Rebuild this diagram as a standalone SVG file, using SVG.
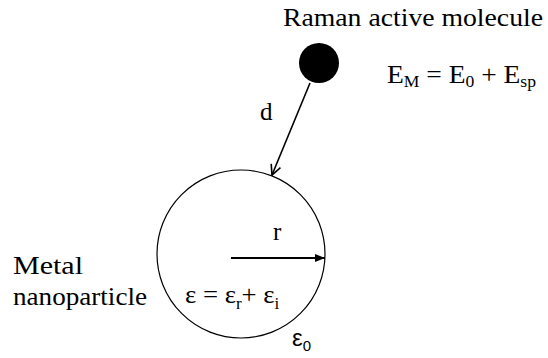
<svg xmlns="http://www.w3.org/2000/svg" width="548" height="358" viewBox="0 0 548 358">
<style>
text{fill:#000}
.s{font-size:16px}
</style>
<defs>
<marker id="open" viewBox="0 0 12 12" refX="11" refY="6" markerWidth="12" markerHeight="12" markerUnits="userSpaceOnUse" orient="auto">
<path d="M1,1 L11,6 L1,11" fill="none" stroke="#000" stroke-width="1.6"/>
</marker>
<marker id="fill" viewBox="0 0 10 8" refX="10" refY="4" markerWidth="10" markerHeight="8" markerUnits="userSpaceOnUse" orient="auto">
<path d="M0,0 L10,4 L0,8 Z" fill="#000"/>
</marker>
</defs>
<rect width="548" height="358" fill="#fff"/>
<g id="molecule" font-family="'Liberation Serif', 'DejaVu Serif', serif" font-size="25">
<circle cx="319" cy="63" r="20" fill="#000"/>
<text x="283" y="26" textLength="260" lengthAdjust="spacingAndGlyphs">Raman active molecule</text>
<text transform="translate(387,83) scale(1.1,1)" x="0" y="0">E<tspan class="s" dy="4">M</tspan><tspan dy="-4"> = E</tspan><tspan class="s" dy="4">0</tspan><tspan dy="-4"> + E</tspan><tspan class="s" dy="4">sp</tspan></text>
</g>
<g id="nanoparticle" font-family="'Liberation Serif', 'DejaVu Serif', serif" font-size="25">
<circle cx="241" cy="254" r="84" fill="none" stroke="#000" stroke-width="1.2"/>
<text x="13" y="274" textLength="70" lengthAdjust="spacingAndGlyphs">Metal</text>
<text x="13" y="305" textLength="134" lengthAdjust="spacingAndGlyphs">nanoparticle</text>
<text x="273" y="240">r</text>
<text transform="translate(185,303) scale(1.07,1)" x="0" y="0">ε = ε<tspan class="s" dy="6">r</tspan><tspan dy="-6">+ ε</tspan><tspan class="s" dy="6">i</tspan></text>
</g>
<g id="medium" font-family="'Liberation Sans', Arial, sans-serif" font-size="24">
<text x="292" y="346">ε<tspan font-size="15" dy="5">0</tspan></text>
</g>
<g id="connectors" stroke="#000" fill="none">
<line x1="310" y1="83" x2="272" y2="175" stroke-width="1.6" marker-end="url(#open)"/>
<line x1="231" y1="258" x2="325" y2="258" stroke-width="2" marker-end="url(#fill)"/>
</g>
<g id="label-d" font-family="'Liberation Serif', 'DejaVu Serif', serif" font-size="25">
<text x="260" y="120">d</text>
</g>
</svg>
